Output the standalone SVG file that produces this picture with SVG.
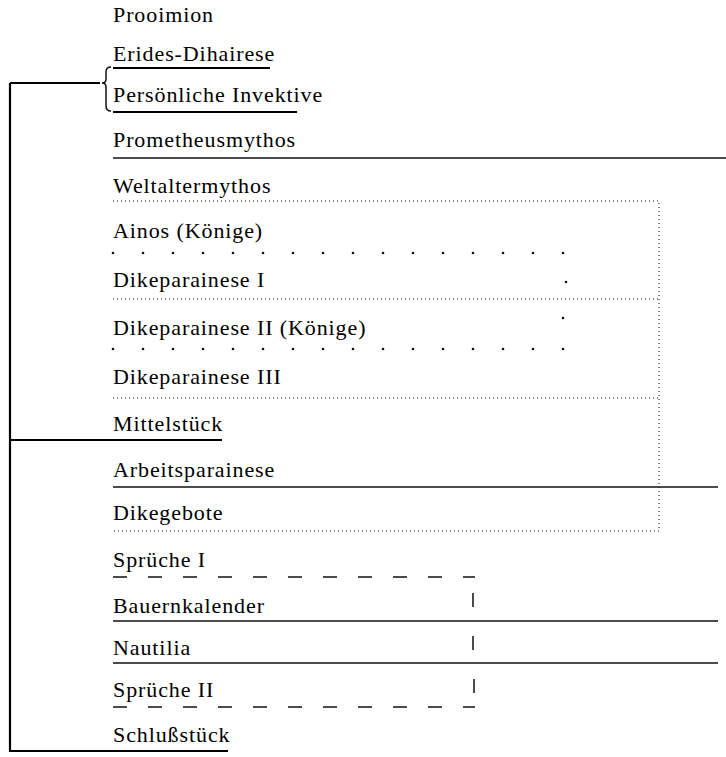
<svg xmlns="http://www.w3.org/2000/svg" width="726" height="757" viewBox="0 0 726 757">
<style>
text{font-family:"Liberation Serif","Times New Roman",serif;font-size:22px;letter-spacing:0.9px;fill:#000}
.solid{stroke:#111;stroke-width:1.5;fill:none}
.thick{stroke:#000;stroke-width:2.2;fill:none}
.dot{stroke:#111;stroke-width:1;stroke-dasharray:1 3;fill:none}
.dash{stroke:#111;stroke-width:1.5;stroke-dasharray:14 21;fill:none}
.pt{fill:#111}
</style>
<rect width="726" height="757" fill="#fff"/>
<g id="labels">
<g id="n-prooimion"><text x="113" y="22">Prooimion</text></g>
<g id="n-erides"><text x="113" y="61">Erides-Dihairese</text></g>
<g id="n-invektive"><text x="113" y="102">Persönliche Invektive</text></g>
<g id="n-prometheus"><text x="113" y="147">Prometheusmythos</text></g>
<g id="n-weltalter"><text x="113" y="193">Weltaltermythos</text></g>
<g id="n-ainos"><text x="113" y="238">Ainos (Könige)</text></g>
<g id="n-dike1"><text x="113" y="287">Dikeparainese I</text></g>
<g id="n-dike2"><text x="113" y="335">Dikeparainese II (Könige)</text></g>
<g id="n-dike3"><text x="113" y="384">Dikeparainese III</text></g>
<g id="n-mittel"><text x="113" y="431">Mittelstück</text></g>
<g id="n-arbeit"><text x="113" y="477">Arbeitsparainese</text></g>
<g id="n-dikegebote"><text x="113" y="520">Dikegebote</text></g>
<g id="n-sprueche1"><text x="113" y="567">Sprüche I</text></g>
<g id="n-bauern"><text x="113" y="613">Bauernkalender</text></g>
<g id="n-nautilia"><text x="113" y="655">Nautilia</text></g>
<g id="n-sprueche2"><text x="113" y="697">Sprüche II</text></g>
<g id="n-schluss"><text x="113" y="742">Schlußstück</text></g>
</g>
<g id="connectors">
<path class="thick" d="M10 83V752M10 83H100"/>
<path class="solid" stroke-width="1" d="M111 67Q106 67 106 72V79Q106 83 102 83Q106 83 106 87V106Q106 111 111 111"/>
<path class="thick" d="M113 68H270M113 112H297"/>
<path class="solid" d="M113 158H726"/>
<path class="dot" d="M113 201H659V531H113M113 299H659M113 398H659"/>
<g class="pt">
<circle cx="113" cy="253" r="1.3"/><circle cx="143" cy="253" r="1.3"/><circle cx="173" cy="253" r="1.3"/><circle cx="203" cy="253" r="1.3"/><circle cx="233" cy="253" r="1.3"/><circle cx="263" cy="253" r="1.3"/><circle cx="293" cy="253" r="1.3"/><circle cx="323" cy="253" r="1.3"/><circle cx="353" cy="253" r="1.3"/><circle cx="383" cy="253" r="1.3"/><circle cx="413" cy="253" r="1.3"/><circle cx="443" cy="253" r="1.3"/><circle cx="473" cy="253" r="1.3"/><circle cx="503" cy="253" r="1.3"/><circle cx="533" cy="253" r="1.3"/><circle cx="563" cy="253" r="1.3"/>
<circle cx="566" cy="282" r="1.3"/><circle cx="563" cy="318" r="1.3"/>
<circle cx="113" cy="349" r="1.3"/><circle cx="143" cy="349" r="1.3"/><circle cx="173" cy="349" r="1.3"/><circle cx="203" cy="349" r="1.3"/><circle cx="233" cy="349" r="1.3"/><circle cx="263" cy="349" r="1.3"/><circle cx="293" cy="349" r="1.3"/><circle cx="323" cy="349" r="1.3"/><circle cx="353" cy="349" r="1.3"/><circle cx="383" cy="349" r="1.3"/><circle cx="413" cy="349" r="1.3"/><circle cx="443" cy="349" r="1.3"/><circle cx="473" cy="349" r="1.3"/><circle cx="503" cy="349" r="1.3"/><circle cx="533" cy="349" r="1.3"/><circle cx="563" cy="349" r="1.3"/>
</g>
<path class="thick" d="M10 440H222"/>
<path class="solid" d="M113 487H718"/>
<path class="dash" d="M113 577H475M113 707H475"/>
<path class="solid" d="M473 593V607M473 636V650M474 679V693"/>
<path class="solid" d="M113 621H718M113 663H718"/>
<path class="thick" d="M10 751H228"/>
</g>
</svg>
